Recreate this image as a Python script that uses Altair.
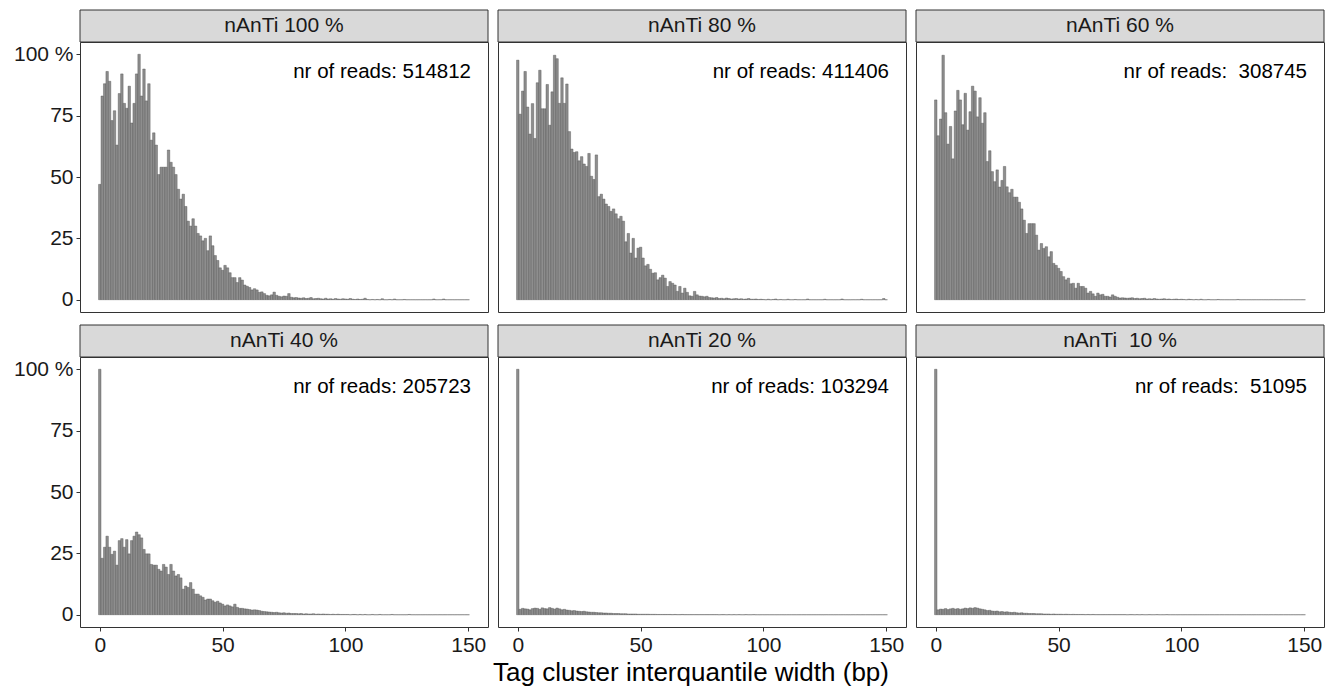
import altair as alt
import pandas as pd

FONT = "Liberation Sans"

panels = ["nAnTi 100 %", "nAnTi 80 %", "nAnTi 60 %",
          "nAnTi 40 %", "nAnTi 20 %", "nAnTi\u00a0 10 %"]
reads = ["nr of reads: 514812", "nr of reads: 411406", "nr of reads:\u00a0 308745",
         "nr of reads: 205723", "nr of reads: 103294", "nr of reads:\u00a0 51095"]
x_title = "Tag cluster interquantile width (bp)"

# bin centres (bp) 0..150
bp = list(range(151))

p100 = [47, 83, 88, 93, 89, 73, 77, 63, 84, 92,
        80, 78, 87, 72, 80, 92, 100, 83, 94, 81,
        88, 65, 68, 63, 51, 54, 54, 54, 61, 56,
        54, 51, 45, 41, 43, 38, 32, 30, 33, 30,
        27, 26, 24, 25, 20, 26, 22, 18, 16, 13,
        12, 14, 13, 11, 9, 9, 7, 9, 8, 6,
        5.5, 5, 4, 4.5, 4, 3, 3.2, 2.5, 1.8, 1.6,
        2, 3.1, 1.8, 1.4, 1.2, 1.5, 1.4, 2.5, 1.0, 0.8,
        0.9, 0.7, 0.6, 0.8, 0.5, 0.6, 0.9, 0.4, 0.5, 0.6,
        0.4, 0.3, 0.6, 0.3, 0.4, 0.2, 0.5, 0.3, 0.2, 0.4,
        0.3, 0.2, 0.5, 0.2, 0.1, 0.3, 0.1, 0.2, 0.6, 0.1,
        0, 0.1, 0, 0.1, 0, 0.4, 0, 0, 0.1, 0,
        0.3, 0, 0, 0, 0.1, 0, 0, 0, 0, 0,
        0, 0, 0, 0, 0, 0, 0.3, 0, 0, 0,
        0.3, 0, 0, 0, 0, 0, 0, 0, 0, 0,
        0]

p80 = [97.6, 75.6, 85, 93, 78.5, 67.5, 79.9, 65.7, 88.4, 93.5,
       77.8, 77.8, 87.7, 71.1, 84.7, 99.6, 98.2, 80, 90.4, 80,
       87.9, 68.5, 61.4, 60, 60.3, 56.6, 58.3, 55.3, 54.3, 59.6,
       50.3, 49, 59, 42, 43, 41, 39, 38, 36, 37,
       35, 33, 34, 32, 23.6, 27, 19, 25, 17, 21,
       21.4, 17, 13.8, 14.4, 12.4, 10.8, 11, 8.1, 9, 10,
       8.8, 5.4, 7.4, 6.7, 6, 3.4, 5.4, 2.7, 4.7, 3,
       1.6, 1.4, 3.4, 2, 1.5, 1.4, 1.2, 1.4, 0.9, 0.8,
       0.7, 0.9, 0.5, 0.6, 0.4, 0.7, 0.5, 0.3, 0.4, 0.5,
       0.3, 0.4, 0.2, 0.3, 0.5, 0.2, 0.2, 0.3, 0.1, 0.2,
       0.1, 0, 0.2, 0, 0.1, 0.3, 0, 0.1, 0, 0,
       0.2, 0, 0, 0.1, 0, 0, 0, 0, 0.3, 0,
       0, 0, 0, 0, 0, 0.2, 0, 0, 0, 0,
       0, 0, 0.3, 0, 0, 0, 0, 0, 0, 0,
       0.2, 0, 0, 0, 0, 0, 0, 0, 0, 0.5,
       0]

p60 = [81.4, 66.8, 73.6, 99.6, 76.2, 63.4, 70.6, 57.4, 76.9, 85.3,
       81.4, 71.3, 84.1, 69.1, 76.6, 87, 85, 74.5, 82.3, 71.9,
       76.2, 56.3, 60.7, 52.2, 48.1, 52.9, 45.9, 48.6, 54.3, 46,
       43.6, 45, 41.8, 41.8, 39.7, 37, 32.4, 27, 31, 31,
       31, 26.3, 20.2, 22.9, 20.9, 21.6, 17.5, 19.6, 14.8, 14,
       12.8, 11.5, 9.4, 8.1, 8.8, 6.5, 6.7, 4.7, 6.7, 5.4,
       5.4, 4.7, 2.7, 3.4, 2.4, 1.4, 2.7, 2, 2.2, 1.4,
       1.4, 1.1, 2, 1.4, 1.0, 0.7, 0.8, 0.7, 0.6, 0.7,
       0.8, 0.5, 0.6, 0.4, 0.5, 0.6, 0.3, 0.4, 0.3, 0.5,
       0.3, 0.2, 0.3, 0.4, 0.2, 0.3, 0.1, 0.2, 0.3, 0.1,
       0.2, 0.1, 0, 0.2, 0.1, 0, 0.1, 0, 0.2, 0,
       0, 0.1, 0, 0, 0, 0.1, 0, 0, 0, 0,
       0, 0, 0, 0.1, 0, 0, 0, 0, 0, 0,
       0, 0, 0, 0, 0, 0, 0, 0, 0, 0,
       0, 0, 0, 0, 0, 0, 0, 0, 0, 0,
       0]

p40 = [100, 23, 27.5, 32, 27.5, 24.6, 25.9, 20.2, 30.2, 31,
       27.5, 30.6, 24.8, 30.2, 32, 33.7, 32.6, 31.3, 26.6, 24.8,
       24.8, 20.5, 20.2, 20.2, 18.5, 17.8, 20.5, 19.4, 16.4, 20.5,
       17.8, 15.8, 16.4, 15, 10.4, 11.7, 11.1, 13.1, 10.4, 8.4,
       8.4, 7.7, 7.1, 6, 6.4, 6.4, 5.7, 5.1, 5.5, 4.8,
       4.3, 3.6, 4, 3.6, 3.2, 4.3, 3, 2.6, 2.6, 2.4,
       2.3, 2.1, 1.9, 2, 1.9, 1.7, 1.4, 1.3, 1.2, 1.1,
       1.0, 0.9, 1.0, 0.8, 0.7, 0.8, 0.6, 0.7, 0.5, 0.5,
       0.5, 0.4, 0.5, 0.3, 0.4, 0.3, 0.3, 0.4, 0.2, 0.3,
       0.2, 0.3, 0.2, 0.2, 0.1, 0.2, 0.1, 0.2, 0.1, 0.1,
       0.1, 0.1, 0, 0.1, 0.1, 0, 0.1, 0, 0.1, 0,
       0, 0.1, 0, 0, 0.1, 0, 0, 0, 0, 0.1,
       0, 0, 0, 0, 0, 0, 0.1, 0, 0, 0,
       0, 0, 0, 0, 0, 0, 0, 0, 0, 0,
       0, 0, 0, 0, 0, 0, 0, 0, 0, 0,
       0]

p20 = [100, 2.2, 2.6, 2.4, 2.3, 2.0, 2.5, 2.7, 2.6, 2.2,
       2.8, 2.5, 2.4, 2.9, 2.6, 2.3, 2.7, 2.4, 2.0, 2.2,
       1.9, 1.8, 1.6, 1.7, 1.5, 1.4, 1.3, 1.4, 1.2, 1.1,
       1.0, 1.0, 0.9, 0.8, 0.8, 0.7, 0.7, 0.6, 0.6, 0.5,
       0.5, 0.5, 0.4, 0.4, 0.4, 0.3, 0.3, 0.3, 0.3, 0.2,
       0.2, 0.2, 0.2, 0.2, 0.15, 0.15, 0.15, 0.1, 0.1, 0.1,
       0.1, 0.1, 0.1, 0.05, 0.1, 0.05, 0.05, 0.1, 0.05, 0.05,
       0.05, 0.05, 0.05, 0.05, 0.05, 0.05, 0.05, 0.05, 0.05, 0.05,
       0.05, 0.05, 0, 0.05, 0.05, 0, 0.05, 0, 0.05, 0,
       0.05, 0, 0, 0.05, 0, 0, 0.05, 0, 0, 0,
       0, 0, 0, 0, 0, 0, 0, 0, 0, 0,
       0, 0, 0, 0, 0, 0, 0, 0, 0, 0,
       0, 0, 0, 0, 0, 0, 0, 0, 0, 0,
       0, 0, 0, 0, 0, 0, 0, 0, 0, 0,
       0, 0, 0, 0, 0, 0, 0, 0, 0, 0,
       0]

p10 = [100, 2.0, 2.3, 2.2, 2.5, 2.1, 2.4, 2.6, 2.3, 2.5,
       2.2, 2.4, 2.7, 2.5, 2.8, 2.6, 2.9, 2.7, 2.4, 2.2,
       2.0, 1.7, 1.8, 1.5, 1.4, 1.5, 1.2, 1.3, 1.1, 1.2,
       1.0, 0.9, 1.0, 0.8, 0.7, 0.8, 0.6, 0.6, 0.5, 0.5,
       0.5, 0.4, 0.4, 0.4, 0.3, 0.3, 0.3, 0.2, 0.3, 0.2,
       0.2, 0.2, 0.15, 0.2, 0.15, 0.1, 0.15, 0.1, 0.1, 0.1,
       0.1, 0.05, 0.1, 0.05, 0.1, 0.05, 0.05, 0.05, 0.05, 0.05,
       0.05, 0.05, 0.05, 0.05, 0.05, 0.05, 0.05, 0.05, 0, 0.05,
       0.05, 0, 0.05, 0, 0.05, 0, 0, 0.05, 0, 0,
       0.05, 0, 0, 0, 0.05, 0, 0, 0, 0, 0,
       0, 0, 0, 0, 0, 0, 0, 0, 0, 0,
       0, 0, 0, 0, 0, 0, 0, 0, 0, 0,
       0, 0, 0, 0, 0, 0, 0, 0, 0, 0,
       0, 0, 0, 0, 0, 0, 0, 0, 0, 0,
       0, 0, 0, 0, 0, 0, 0, 0, 0, 0,
       0]

series = [p100, p80, p60, p40, p20, p10]

rows = []
for name, rd, vals in zip(panels, reads, series):
    for b, v in zip(bp, vals):
        rows.append({"panel": name, "reads": rd, "bp": b, "pct": v})
df = pd.DataFrame(rows)

W, H = 408, 270
STRIP = 32


def make_panel(idx):
    name = panels[idx]
    left = idx % 3 == 0
    bottom = idx >= 3
    xaxis = alt.Axis(values=[0, 50, 100, 150], grid=False, title=None) if bottom else None
    yaxis = (alt.Axis(values=[0, 25, 50, 75, 100], grid=False, title=None,
                      labelExpr="datum.value == 100 ? '100 %' : datum.label")
             if left else None)

    base = alt.Chart()
    bars = base.mark_bar(fill="#8e8e8e", stroke="#4d4d4d", strokeWidth=0.4).encode(
        x=alt.X("lo:Q", scale=alt.Scale(domain=[-8.05, 158.05], nice=False, zero=False),
                axis=xaxis),
        x2="hi:Q",
        y=alt.Y("pct:Q", scale=alt.Scale(domain=[-5, 105], nice=False, zero=False),
                axis=yaxis),
        y2=alt.datum(0),
    ).transform_calculate(lo="datum.bp - 0.5", hi="datum.bp + 0.5")

    strip = base.mark_rect(fill="#d9d9d9", stroke="#333333", strokeWidth=1).encode(
        x=alt.value(0), x2=alt.value(W), y=alt.value(-STRIP), y2=alt.value(0)
    ).transform_filter("datum.bp == 0")

    strip_text = base.mark_text(font=FONT, fontSize=21, color="#1a1a1a").encode(
        x=alt.value(W / 2), y=alt.value(-STRIP / 2), text="panel:N"
    ).transform_filter("datum.bp == 0")

    reads_text = base.mark_text(font=FONT, fontSize=20.5, color="#000000", align="right",
                                baseline="middle").encode(
        x=alt.value(W - 17), y=alt.value(30), text="reads:N"
    ).transform_filter("datum.bp == 0")

    return alt.layer(bars, strip, strip_text, reads_text, data=df).transform_filter(
        alt.datum.panel == name
    ).properties(width=W, height=H)


row1 = alt.hconcat(make_panel(0), make_panel(1), make_panel(2), spacing=8)
row2 = alt.hconcat(make_panel(3), make_panel(4), make_panel(5), spacing=8)

chart = alt.vconcat(row1, row2, spacing=11).properties(
    title=alt.TitleParams(text=x_title, orient="bottom", anchor="middle",
                          font=FONT, fontSize=26, fontWeight="normal",
                          color="#000000", offset=4, dx=22),
    padding={"left": 12, "top": 9, "right": 5, "bottom": 0},
    background="white",
).configure_view(
    stroke="#333333", strokeWidth=1
).configure_axis(
    labelFont=FONT, labelFontSize=21, labelColor="#1a1a1a",
    tickColor="#333333", tickSize=4, domain=False, labelPadding=3,
)

chart.save("out.html", embed_options={"renderer": "svg", "actions": False})
